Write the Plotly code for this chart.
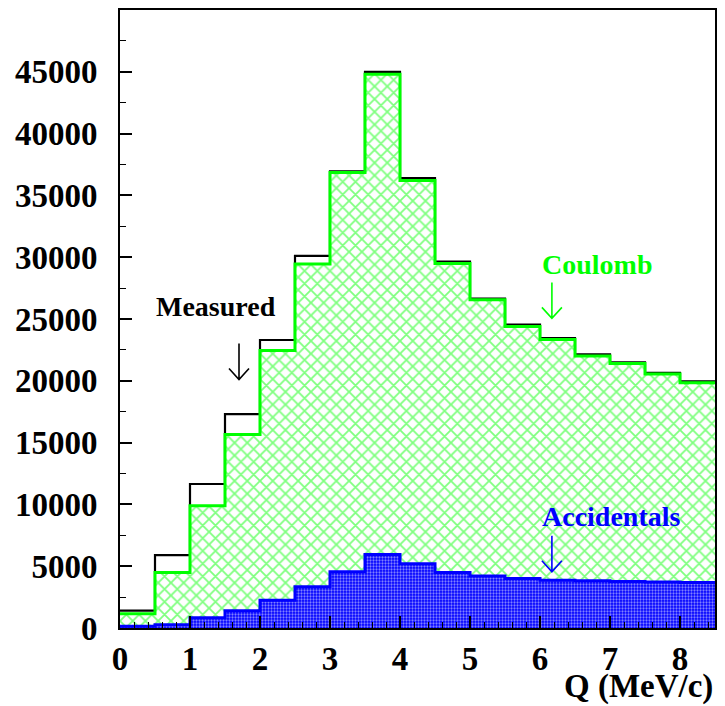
import plotly.graph_objects as go

# Q histogram: 17 bins of 0.5 MeV/c from 0 to 8.5
bin_edges = [0.0, 0.5, 1.0, 1.5, 2.0, 2.5, 3.0, 3.5, 4.0, 4.5, 5.0,
             5.5, 6.0, 6.5, 7.0, 7.5, 8.0, 8.5]
measured = [1400, 5900, 11650, 17300, 23300, 30100, 36950, 45000, 36400,
            29650, 26650, 24550, 23450, 22150, 21500, 20650, 19950]
coulomb = [1150, 4500, 9900, 15650, 22450, 29450, 36850, 44800, 36200,
           29500, 26550, 24400, 23350, 22000, 21400, 20550, 19850]
accidentals = [150, 270, 830, 1400, 2250, 3330, 4550, 5950, 5200,
               4500, 4200, 4000, 3870, 3820, 3760, 3730, 3690]

y_ticks = [0, 5000, 10000, 15000, 20000, 25000, 30000, 35000, 40000, 45000]
x_ticks = [0, 1, 2, 3, 4, 5, 6, 7, 8]

FONT = "Liberation Serif"
GREEN = "#00ff00"
BLUE = "#0000ff"


def step_y(vals):
    # repeat last bin content so the 'hv' step closes at the last edge
    return list(vals) + [vals[-1]]


fig = go.Figure()

# Measured outline
fig.add_trace(go.Scatter(
    x=bin_edges, y=step_y(measured), mode="lines", line_shape="hv",
    line=dict(color="black", width=2.2), showlegend=False, hoverinfo="skip"))

# Coulomb: cross-hatched green
fig.add_trace(go.Scatter(
    x=bin_edges, y=step_y(coulomb), mode="lines", line_shape="hv",
    fill="tozeroy", fillcolor="white",
    fillpattern=dict(shape="x", fgcolor=GREEN, bgcolor="white",
                     size=9, solidity=0.36),
    line=dict(color=GREEN, width=3), showlegend=False, hoverinfo="skip"))

# Accidentals: dense dotted blue
fig.add_trace(go.Scatter(
    x=bin_edges, y=step_y(accidentals), mode="lines", line_shape="hv",
    fill="tozeroy", fillcolor=BLUE,
    fillpattern=dict(shape=".", fgcolor="white", bgcolor=BLUE,
                     size=3, solidity=0.45),
    line=dict(color=BLUE, width=3), showlegend=False, hoverinfo="skip"))

label_font = dict(family=FONT, size=28, weight="bold")

annotations = [
    dict(x=1.37, y=26000, text="Measured", font=dict(label_font, color="black")),
    dict(x=6.81, y=29400, text="Coulomb", font=dict(label_font, color=GREEN)),
    dict(x=7.02, y=9000, text="Accidentals", font=dict(label_font, color=BLUE)),
]
for a in annotations:
    a.update(xref="x", yref="y", showarrow=False, xanchor="center",
             yanchor="middle")

annotations.append(dict(
    xref="paper", yref="paper", x=1.0, y=-0.062, xanchor="right",
    yanchor="top", showarrow=False, text="Q (MeV/c)",
    font=dict(family=FONT, size=33, weight="bold", color="black")))

# Down arrows under each label: tip anchored in data space, drawn in pixels
ARROW_PATH = "M0,0 L0,36 M-10,11 L0,0 L10,11"
arrow_tips = [(1.70, 20100, "black"), (6.17, 25050, GREEN), (6.17, 4550, BLUE)]
shapes = [
    dict(type="path", xref="x", yref="y", xsizemode="pixel",
         ysizemode="pixel", xanchor=ax, yanchor=ay, path=ARROW_PATH,
         line=dict(color=c, width=1.6))
    for ax, ay, c in arrow_tips
]

tick_font = dict(family=FONT, size=33, weight="bold", color="black")

fig.update_layout(
    width=725, height=706,
    margin=dict(l=120, r=9, t=8, b=78),
    paper_bgcolor="white", plot_bgcolor="white",
    annotations=annotations,
    shapes=shapes,
    xaxis=dict(
        range=[0, 8.5], tickvals=x_ticks, ticktext=[str(v) for v in x_ticks],
        ticks="inside", ticklen=12, tickwidth=1.5, tickcolor="black",
        minor=dict(dtick=0.2, tick0=0, ticks="inside", ticklen=6,
                   tickwidth=1, tickcolor="black"),
        showline=True, linecolor="black", linewidth=2, mirror=True,
        showgrid=False, zeroline=False, tickfont=tick_font,
        ticklabelstandoff=0),
    yaxis=dict(
        range=[0, 50000], tickvals=y_ticks, ticktext=[str(v) for v in y_ticks],
        ticks="inside", ticklen=12, tickwidth=1.5, tickcolor="black",
        minor=dict(dtick=2500, tick0=0, ticks="inside", ticklen=6,
                   tickwidth=1, tickcolor="black"),
        showline=True, linecolor="black", linewidth=2, mirror=True,
        showgrid=False, zeroline=False, tickfont=tick_font,
        ticklabelstandoff=14),
)

fig.write_html("out.html")
